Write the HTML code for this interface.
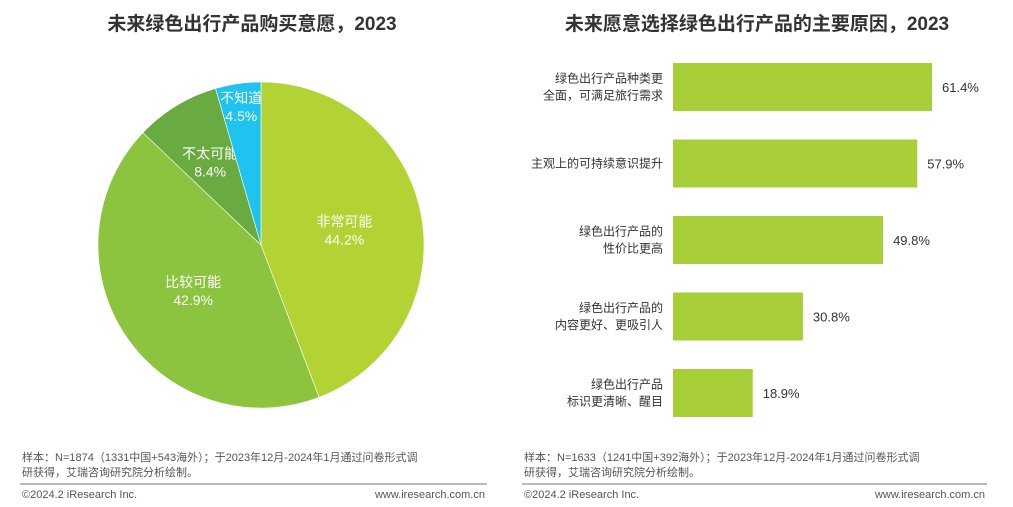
<!DOCTYPE html>
<html><head><meta charset="utf-8"><style>
body{margin:0;width:1013px;height:507px;background:#fff;overflow:hidden;font-family:"Liberation Sans","Noto Sans CJK SC",sans-serif;}
svg{position:absolute;left:0;top:0}
</style></head><body>
<svg width="1013" height="507">
<text x="252" y="30" text-anchor="middle" font-size="19" font-weight="bold" fill="#333">未来绿色出行产品购买意愿，2023</text>
<text x="757" y="30" text-anchor="middle" font-size="19" font-weight="bold" fill="#333">未来愿意选择绿色出行产品的主要原因，2023</text>
<g id="pie"></g>
<g id="bars"></g>
<g font-size="11" fill="#555">
<text x="22" y="461">样本：N=1874（1331中国+543海外）；于2023年12月-2024年1月通过问卷形式调</text>
<text x="22" y="476">研获得，艾瑞咨询研究院分析绘制。</text>
<line x1="20" y1="484" x2="487" y2="484" stroke="#777" stroke-width="1"/>
<text x="22" y="498">©2024.2 iResearch Inc.</text>
<text x="485" y="498" text-anchor="end">www.iresearch.com.cn</text>
<text x="524" y="461">样本：N=1633（1241中国+392海外）；于2023年12月-2024年1月通过问卷形式调</text>
<text x="524" y="476">研获得，艾瑞咨询研究院分析绘制。</text>
<line x1="522" y1="484" x2="987" y2="484" stroke="#777" stroke-width="1"/>
<text x="524" y="498">©2024.2 iResearch Inc.</text>
<text x="985" y="498" text-anchor="end">www.iresearch.com.cn</text>
</g>
</svg>
<script>
const NS="http://www.w3.org/2000/svg";
const pieLabels=["非常可能","比较可能","不太可能","不知道"];
const pieValues=[44.2,42.9,8.4,4.5];
const pieColors=["#b3d234","#8cc43f","#6aab41","#1ec3ef"];
const barCats=[["绿色出行产品种类更","全面，可满足旅行需求"],["主观上的可持续意识提升"],["绿色出行产品的","性价比更高"],["绿色出行产品的","内容更好、更吸引人"],["绿色出行产品","标识更清晰、醒目"]];
const barValues=[61.4,57.9,49.8,30.8,18.9];
function mk(t,a,p){const e=document.createElementNS(NS,t);for(const k in a)e.setAttribute(k,a[k]);p.appendChild(e);return e;}
const pie=document.getElementById('pie');
const cx=261,cy=245,r=163;
const labelR=[0.52,0.5,0.6,0.86];
const tot=pieValues.reduce((a,b)=>a+b,0);
let ang=0;
pieValues.forEach((v,i)=>{
  const a0=ang,a1=ang+v/tot*2*Math.PI;ang=a1;
  const x0=cx+r*Math.sin(a0),y0=cy-r*Math.cos(a0),x1=cx+r*Math.sin(a1),y1=cy-r*Math.cos(a1);
  const p=mk('path',{d:`M${cx},${cy}L${x0},${y0}A${r},${r} 0 ${a1-a0>Math.PI?1:0} 1 ${x1},${y1}Z`,fill:pieColors[i],stroke:'#fff','stroke-width':0.6},pie);
  
  
  const m=(a0+a1)/2,lr=r*labelR[i];
  const lx=cx+lr*Math.sin(m),ly=cy-lr*Math.cos(m);
  const t=mk('text',{x:lx,y:ly-3,'text-anchor':'middle','font-size':14,fill:'#fff'},pie);
  t.textContent=pieLabels[i];
  
  
  const t2=mk('text',{x:lx,y:ly+15,'text-anchor':'middle','font-size':14,fill:'#fff'},pie);
  t2.textContent=v.toFixed(1)+'%';
  
  
});
const bars=document.getElementById('bars');
const x0=673,sx=259/61.4,y0=87,step=76.5,bh=48;
barValues.forEach((v,i)=>{
  const yc=y0+i*step;
  const b=mk('rect',{x:x0,y:yc-bh/2,width:v*sx,height:bh,fill:'#a8cf38'},bars);
  
  
  const t=mk('text',{x:x0+v*sx+10,y:yc+5,'font-size':13,fill:'#333'},bars);
  t.textContent=v.toFixed(1)+'%';
  
  
  const lines=barCats[i];
  lines.forEach((s,j)=>{
    const c=mk('text',{x:663,y:yc+4+(j-(lines.length-1)/2)*17,'text-anchor':'end','font-size':12,fill:'#333'},bars);
    c.textContent=s;
    
    
  });
});
</script>
</body></html>
